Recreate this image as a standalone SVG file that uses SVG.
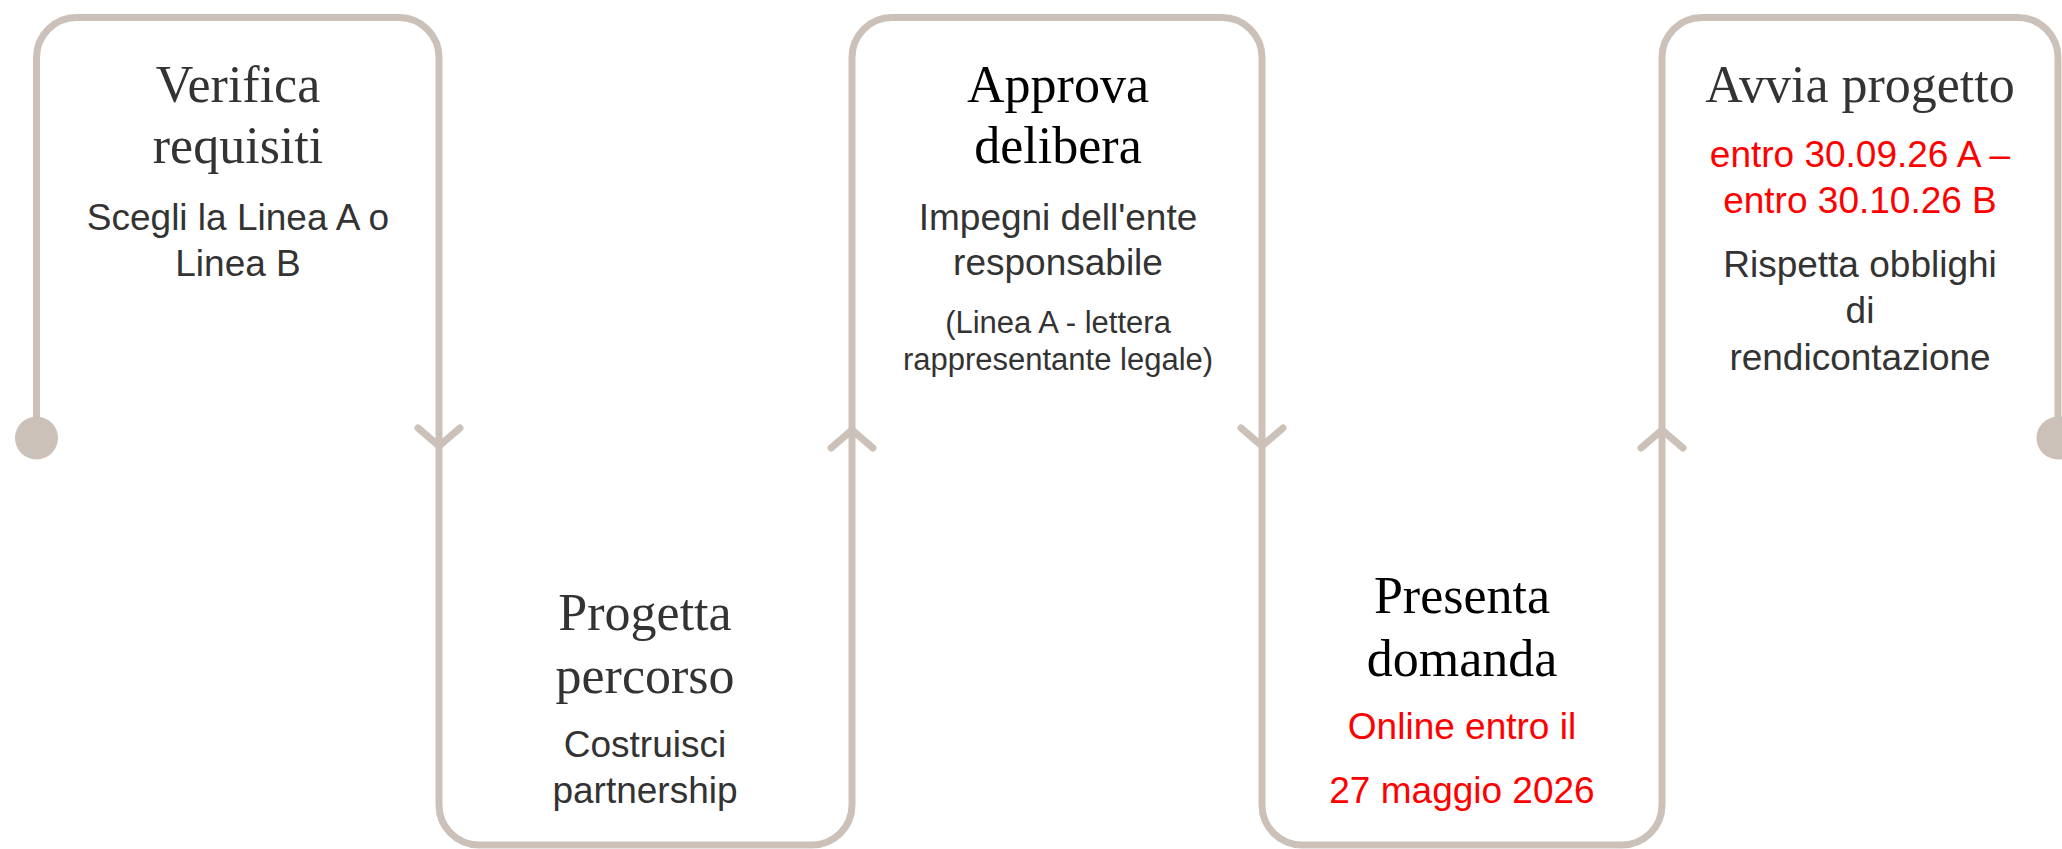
<svg xmlns="http://www.w3.org/2000/svg" width="2062" height="849" viewBox="0 0 2062 849">
<style>
.ln{fill:none;stroke:#cbc1b8;stroke-width:7;stroke-linecap:round;stroke-linejoin:round}
.dot{fill:#cbc1b8}
.t{font-family:"Liberation Serif","Times New Roman",serif;font-size:52px;text-anchor:middle}
.g{fill:#333333}
.k{fill:#000000}
.s{font-family:"Liberation Sans",Arial,sans-serif;font-size:37px;text-anchor:middle;fill:#333333}
.sm{font-family:"Liberation Sans",Arial,sans-serif;font-size:31px;text-anchor:middle;fill:#333333}
.r{fill:#ff0000}
</style>
<rect width="2062" height="849" fill="#ffffff"/>
<g id="connectors">
<path class="ln" d="M36.5,438 V57.5 A40,40 0 0 1 76.5,17.5 H399 A40,40 0 0 1 439,57.5 V805 A40,40 0 0 0 479,845 H812 A40,40 0 0 0 852,805 V57.5 A40,40 0 0 1 892,17.5 H1222 A40,40 0 0 1 1262,57.5 V805 A40,40 0 0 0 1302,845 H1622 A40,40 0 0 0 1662,805 V57.5 A40,40 0 0 1 1702,17.5 H2018 A40,40 0 0 1 2058,57.5 V438"/>
<circle class="dot" cx="36.5" cy="438" r="21.5"/>
<circle class="dot" cx="2058" cy="438" r="21.5"/>
<polyline class="ln" points="418,428 439,446 460,428"/>
<polyline class="ln" points="831,448 852,430 873,448"/>
<polyline class="ln" points="1241,428 1262,446 1283,428"/>
<polyline class="ln" points="1641,448 1662,430 1683,448"/>
</g>
<g id="node-verifica">
<text class="t g" x="238" y="102">Verifica</text>
<text class="t g" x="238" y="163">requisiti</text>
<text class="s" x="238" y="230">Scegli la Linea A o</text>
<text class="s" x="238" y="276">Linea B</text>
</g>
<g id="node-progetta">
<text class="t g" x="645" y="630">Progetta</text>
<text class="t g" x="645" y="693">percorso</text>
<text class="s" x="645" y="757">Costruisci</text>
<text class="s" x="645" y="803">partnership</text>
</g>
<g id="node-approva">
<text class="t k" x="1058" y="102">Approva</text>
<text class="t k" x="1058" y="163">delibera</text>
<text class="s" x="1058" y="230">Impegni dell'ente</text>
<text class="s" x="1058" y="275">responsabile</text>
<text class="sm" x="1058" y="333">(Linea A - lettera</text>
<text class="sm" x="1058" y="370">rappresentante legale)</text>
</g>
<g id="node-presenta">
<text class="t k" x="1462" y="613">Presenta</text>
<text class="t k" x="1462" y="676">domanda</text>
<text class="s r" x="1462" y="739">Online entro il</text>
<text class="s r" x="1462" y="803">27 maggio 2026</text>
</g>
<g id="node-avvia">
<text class="t g" x="1860" y="102">Avvia progetto</text>
<text class="s r" x="1860" y="167">entro 30.09.26 A –</text>
<text class="s r" x="1860" y="213">entro 30.10.26 B</text>
<text class="s" x="1860" y="277">Rispetta obblighi</text>
<text class="s" x="1860" y="323">di</text>
<text class="s" x="1860" y="370">rendicontazione</text>
</g>
</svg>
